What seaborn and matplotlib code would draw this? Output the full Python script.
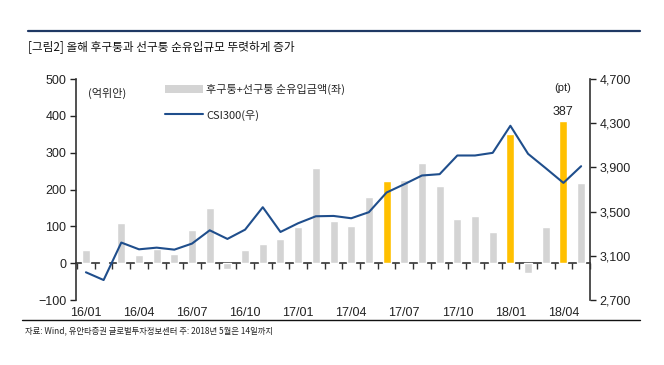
import matplotlib
matplotlib.use("Agg")
import matplotlib.pyplot as plt
import seaborn as sns
import numpy as np
import pandas as pd
from matplotlib.patches import Patch
from matplotlib.lines import Line2D

months = ["16/01","16/02","16/03","16/04","16/05","16/06","16/07","16/08","16/09","16/10","16/11","16/12",
          "17/01","17/02","17/03","17/04","17/05","17/06","17/07","17/08","17/09","17/10","17/11","17/12",
          "18/01","18/02","18/03","18/04","18/05"]
net_inflow = [37, 2, 108, 21, 38, 24, 89, 150, -17, 37, 51, 67,
              97, 258, 114, 101, 180, 223, 225, 272, 209, 119, 128, 86,
              351, -26, 98, 387, 218]
csi300 = [2951, 2881, 3220, 3159, 3174, 3156, 3211, 3331, 3253, 3337, 3540, 3316,
          3395, 3458, 3461, 3440, 3495, 3673, 3748, 3827, 3839, 4008, 4008, 4032,
          4277, 4023, 3893, 3760, 3911]
highlight = ["17/06", "18/01", "18/04"]
xtick_labels = ["16/01","16/04","16/07","16/10","17/01","17/04","17/07","17/10","18/01","18/04"]
left_ticks = [-100, 0, 100, 200, 300, 400, 500]
right_ticks = [2700, 3100, 3500, 3900, 4300, 4700]

title = "[그림2] 올해 후구퉁과 선구퉁 순유입규모 뚜렷하게 증가"
bar_label = "후구퉁+선구퉁 순유입금액(좌)"
line_label = "CSI300(우)"
footnote = "자료: Wind, 유안타증권 글로벌투자정보센터 주: 2018년 5월은 14일까지"

GRAY = "#D4D4D4"
ORANGE = "#FFC000"
BLUE = "#1F4E8C"

sns.set_theme(style="white")
plt.rcParams['font.family'] = ['Noto Sans CJK KR', 'DejaVu Sans']
NUMFONT = ['Liberation Sans', 'DejaVu Sans']

df = pd.DataFrame({"month": months, "inflow": net_inflow, "csi": csi300})
df["pos"] = np.arange(len(df))
colors = [ORANGE if m in highlight else GRAY for m in months]

fig = plt.figure(figsize=(6.64, 3.65), dpi=100)
ax = fig.add_axes([0.1145, 0.178, 0.774, 0.6055])

sns.barplot(data=df, x="month", y="inflow", hue="month", palette=colors, legend=False,
            width=0.45, ax=ax, saturation=1, zorder=2)
ax.set_xlim(-0.56, len(months) - 0.5)
ax.set_ylim(-100, 500)
ax.set_yticks(left_ticks)
ax.set_yticklabels([("\u2212" + str(-v)) if v < 0 else str(v) for v in left_ticks],
                   fontsize=9, family=NUMFONT, color="#222222")
ax.set_xticks([months.index(m) for m in xtick_labels])
ax.set_xticklabels(xtick_labels, fontsize=9, family=NUMFONT, color="#222222")
ax.tick_params(axis='x', length=0, pad=5)
ax.tick_params(axis='y', length=4, width=1, direction='out', colors="#222222", left=True, pad=3)
ax.set_xlabel("")
ax.set_ylabel("")
for s in ["top", "right", "bottom"]:
    ax.spines[s].set_visible(False)
ax.spines["left"].set_color("#333333")
ax.spines["left"].set_linewidth(1.2)

# zero line with month ticks
sec = ax.secondary_xaxis(1/6)
sec.set_xticks(np.arange(len(months) + 1) - 0.5)
sec.set_xticklabels([])
sec.tick_params(axis='x', length=4, width=1, direction='out', colors="#333333")
sec.spines["bottom"].set_color("#333333")
sec.spines["bottom"].set_linewidth(1.2)

# 387 annotation
imax = months.index("18/04")
ax.text(imax, net_inflow[imax] + 6, str(net_inflow[imax]), ha="center", va="bottom",
        fontsize=9, family=NUMFONT, color="#222222")

ax2 = ax.twinx()
sns.lineplot(data=df, x="pos", y="csi", ax=ax2, color=BLUE, linewidth=1.5, zorder=3)
ax2.set_ylim(2700, 4700)
ax2.set_yticks(right_ticks)
ax2.set_yticklabels([f"{v:,}" for v in right_ticks], fontsize=9, family=NUMFONT, color="#222222")
ax2.tick_params(axis='y', length=4, width=1, direction='out', right=True, colors="#222222", pad=3)
ax2.set_ylabel("")
ax2.set_xlabel("")
for s in ["top", "left", "bottom"]:
    ax2.spines[s].set_visible(False)
ax2.spines["right"].set_color("#333333")
ax2.spines["right"].set_linewidth(1.2)
ax2.set_xlim(-0.56, len(months) - 0.5)

# units
fig.text(88/664, 1 - 93/365, "(억위안)", fontsize=8, va="center", ha="left", color="#222222")
fig.text(563/664, 1 - 88/365, "(pt)", fontsize=8, va="center", ha="center", color="#222222",
         family=NUMFONT)

# legend
handles = [Patch(facecolor=GRAY, edgecolor="none"),
           Line2D([0], [0], color=BLUE, linewidth=1.5)]
leg = fig.legend(handles, [bar_label, line_label], loc="upper left",
                 bbox_to_anchor=(155/664, 1 - 74/365), frameon=False, fontsize=8,
                 handlelength=3.4, handleheight=0.8, labelspacing=1.3, handletextpad=0.3)

# title and rules
fig.add_artist(Line2D([28/664, 640/664], [1 - 31/365, 1 - 31/365], color="#1F3864", linewidth=1.6))
fig.text(28/664, 1 - 47/365, title, fontsize=8.4, va="center", ha="left", color="#111111")
fig.add_artist(Line2D([22/664, 640/664], [1 - 320/365, 1 - 320/365], color="#111111", linewidth=1.0))
fig.text(25/664, 1 - 331/365, footnote, fontsize=6, va="center", ha="left", color="#222222")

fig.savefig("out.png", dpi=100, facecolor="white")
